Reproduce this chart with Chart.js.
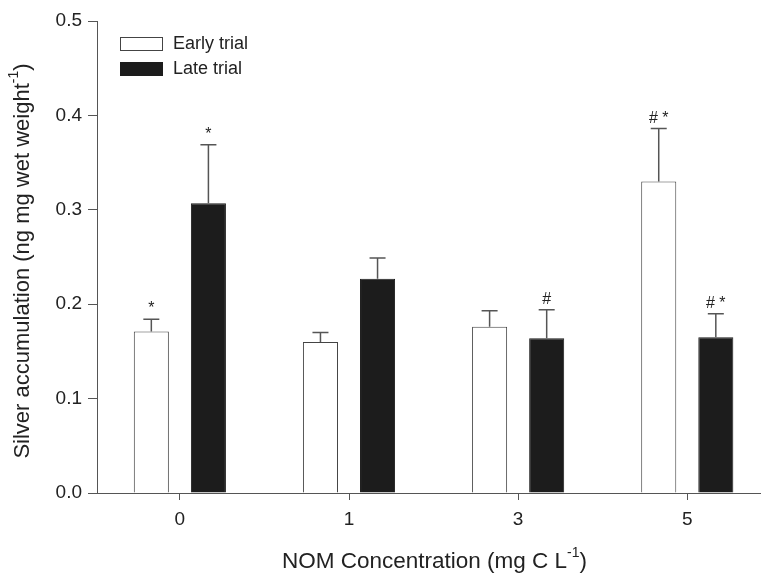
<!DOCTYPE html>
<html>
<head>
<meta charset="utf-8">
<script src="https://cdn.jsdelivr.net/npm/chart.js@4.4.0/dist/chart.umd.min.js"></script>
<style>
  html, body { margin: 0; padding: 0; background: #fff; }
  #wrap { width: 762px; height: 573px; }
</style>
</head>
<body>
<div id="wrap"><canvas id="silverChart"></canvas></div>
<script>
// NOM concentration groups (mg C L-1)
const categories = ['0', '1', '3', '5'];
const earlyMeans = [0.171, 0.160, 0.176, 0.330];
const earlyErrors = [0.013, 0.010, 0.017, 0.056];
const lateMeans = [0.307, 0.227, 0.164, 0.165];
const lateErrors = [0.062, 0.022, 0.030, 0.025];
const earlyMarks = ['*', '', '', '# *'];
const lateMarks = ['*', '', '#', '# *'];
const yTicks = [0, 0.1, 0.2, 0.3, 0.4, 0.5];

const FONT = '"Liberation Sans", Arial, Helvetica, sans-serif';
const TEXT = '#222';
const AXIS = '#555';

const toPoints = arr => arr.map((v, i) => ({ x: i, y: v }));

// error bars + significance marks + legend + axis titles
const extras = {
    id: 'extras',
    afterDatasetsDraw(chart) {
        const ctx = chart.ctx;
        const y = chart.scales.y;
        const sets = [[earlyMeans, earlyErrors, earlyMarks], [lateMeans, lateErrors, lateMarks]];
        ctx.save();
        sets.forEach((s, di) => {
            const meta = chart.getDatasetMeta(di);
            meta.data.forEach((bar, i) => {
                const top = y.getPixelForValue(s[0][i]);
                const cap = y.getPixelForValue(s[0][i] + s[1][i]);
                ctx.strokeStyle = AXIS;
                ctx.lineWidth = 1.5;
                ctx.beginPath();
                ctx.moveTo(bar.x, top);
                ctx.lineTo(bar.x, cap);
                ctx.moveTo(bar.x - 8, cap);
                ctx.lineTo(bar.x + 8, cap);
                ctx.stroke();
                if (s[2][i]) {
                    ctx.fillStyle = TEXT;
                    ctx.font = '16px ' + FONT;
                    ctx.textAlign = 'center';
                    ctx.textBaseline = 'alphabetic';
                    ctx.fillText(s[2][i], bar.x, cap - 6);
                }
            });
        });
        ctx.restore();
    },
    afterDraw(chart) {
        const ctx = chart.ctx;
        const area = chart.chartArea;
        ctx.save();
        // legend
        ctx.lineWidth = 1;
        ctx.strokeStyle = '#444';
        ctx.fillStyle = '#fff';
        ctx.fillRect(120.5, 37.5, 42, 13);
        ctx.strokeRect(120.5, 37.5, 42, 13);
        ctx.fillStyle = '#1c1c1c';
        ctx.fillRect(120, 62, 43, 14);
        ctx.fillStyle = TEXT;
        ctx.font = '18px ' + FONT;
        ctx.textAlign = 'left';
        ctx.textBaseline = 'middle';
        ctx.fillText('Early trial', 173, 44);
        ctx.fillText('Late trial', 173, 69);

        // axis titles with superscript
        const drawSup = (parts, cx, cy, size) => {
            const big = size + 'px ' + FONT;
            const small = Math.round(size * 0.64) + 'px ' + FONT;
            ctx.font = big;
            const w1 = ctx.measureText(parts[0]).width;
            const w3 = ctx.measureText(parts[2]).width;
            ctx.font = small;
            const w2 = ctx.measureText(parts[1]).width;
            let x = cx - (w1 + w2 + w3) / 2;
            ctx.textAlign = 'left';
            ctx.textBaseline = 'middle';
            ctx.font = big;
            ctx.fillText(parts[0], x, cy);
            x += w1;
            ctx.font = small;
            ctx.fillText(parts[1], x, cy - size * 0.4);
            x += w2;
            ctx.font = big;
            ctx.fillText(parts[2], x, cy);
        };
        ctx.fillStyle = TEXT;
        drawSup(['NOM Concentration (mg C L', '-1', ')'], (area.left + area.right) / 2 + 6, 562, 22.5);
        ctx.translate(23, 261);
        ctx.rotate(-Math.PI / 2);
        drawSup(['Silver accumulation (ng mg wet weight', '-1', ')'], 0, 0, 22);
        ctx.restore();
    }
};

new Chart(document.getElementById('silverChart'), {
    type: 'bar',
    data: {
        datasets: [{
            label: 'Early trial',
            data: toPoints(earlyMeans),
            backgroundColor: '#ffffff',
            borderColor: '#444',
            borderWidth: 1
        }, {
            label: 'Late trial',
            data: toPoints(lateMeans),
            backgroundColor: '#1c1c1c',
            borderColor: '#1c1c1c',
            borderWidth: 1
        }]
    },
    options: {
        responsive: true,
        maintainAspectRatio: false,
        animation: false,
        categoryPercentage: 0.675,
        barPercentage: 0.614,
        layout: { padding: { top: 21, right: 2, left: 0, bottom: 0 } },
        plugins: {
            legend: { display: false },
            tooltip: { enabled: false }
        },
        scales: {
            x: {
                type: 'linear',
                min: -0.49,
                max: 3.43,
                offset: false,
                afterBuildTicks: s => { s.ticks = categories.map((c, i) => ({ value: i })); },
                afterFit: s => { s.height = 80; },
                ticks: {
                    callback: (v, i) => categories[i],
                    color: TEXT,
                    font: { family: FONT, size: 19 },
                    padding: 8,
                    maxRotation: 0
                },
                grid: {
                    offset: false,
                    drawOnChartArea: false,
                    drawTicks: true,
                    tickLength: 7,
                    color: AXIS
                },
                border: { display: true, color: AXIS, width: 1 }
            },
            y: {
                min: 0,
                max: 0.5,
                afterBuildTicks: s => { s.ticks = yTicks.map(v => ({ value: v })); },
                afterFit: s => { s.width = 97; },
                ticks: {
                    callback: v => v.toFixed(1),
                    color: TEXT,
                    font: { family: FONT, size: 19 },
                    padding: 6
                },
                grid: {
                    drawOnChartArea: false,
                    drawTicks: true,
                    tickLength: 9,
                    color: AXIS
                },
                border: { display: true, color: AXIS, width: 1 }
            }
        }
    },
    plugins: [extras]
});
</script>
</body>
</html>
